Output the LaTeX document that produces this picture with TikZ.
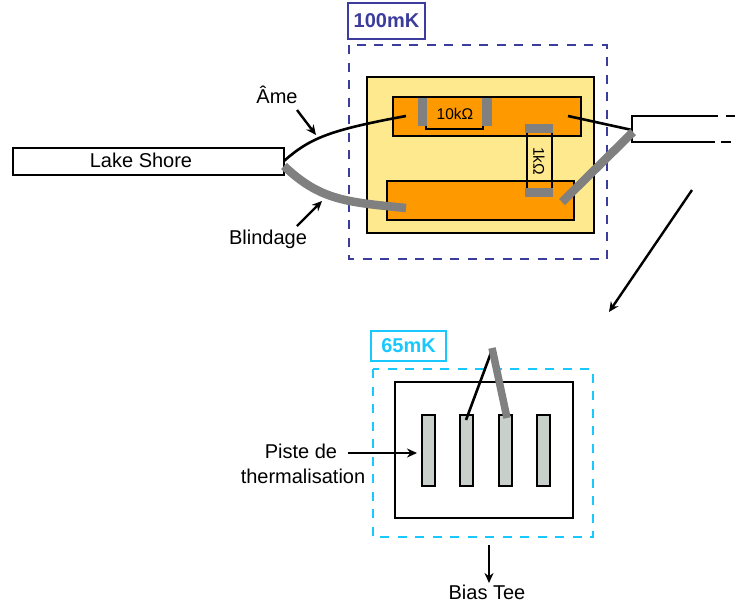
\documentclass[tikz,border=0pt]{standalone}
\usepackage{fontspec}
\setmainfont{Liberation Sans}
\usetikzlibrary{arrows.meta}
\definecolor{dkblue}{HTML}{3C3C9C}
\definecolor{ltblue}{HTML}{19C8FF}
\definecolor{pale}{HTML}{FFE98F}
\definecolor{orng}{HTML}{FF9900}
\definecolor{padgray}{HTML}{808080}
\definecolor{strip}{HTML}{C9CFCB}
\tikzset{
  x=1pt,y=-1pt,
  box/.style={draw=black,line width=2.6pt,inner sep=0pt,outer sep=0pt},
  lbl/.style={font=\fontsize{20}{24}\selectfont,inner sep=0pt,text=black},
  reslbl/.style={font=\fontsize{15.5}{18}\selectfont,inner sep=0pt},
  pad/.style={fill=padgray,inner sep=0pt,outer sep=0pt},
  wire/.style={draw=black,line width=2.6pt},
  shield/.style={draw=padgray,line width=8.5pt},
  pointer/.style={draw=black,line width=2.4pt,-{Stealth[length=10pt,width=9pt]}},
  tag/.style={line width=2.8pt,fill=white,font=\fontsize{20}{24}\selectfont\bfseries,inner sep=0pt,outer sep=0pt},
  zone/.style={line width=2.8pt,dash pattern=on 9pt off 8.5pt},
}
\newcommand{\rct}[6]{\node[#1,minimum width=#4-#2,minimum height=#5-#3,anchor=north west] (#6) at (#2,#3) {};}
\begin{document}
\begin{tikzpicture}
\useasboundingbox (0,0) rectangle (735,606);
% 100mK zone
\draw[zone,draw=dkblue] (349,45) rectangle (607,259);
\node[tag,draw=dkblue,text=dkblue,minimum width=77pt,minimum height=36pt] (t100) at (386.5,21) {100mK};
\rct{box,fill=pale}{367}{77}{594}{233}{sub}
\rct{box,fill=orng}{393}{97}{581}{136}{padtop}
\rct{box,fill=orng}{387}{181}{574}{220}{padbot}
% 10k resistor
\draw[line width=2.6pt] (426,97) -- (426,129) -- (483,129) -- (483,97);
\rct{pad}{418}{98}{427}{126}{pa}
\rct{pad}{482}{98}{492}{126}{pb}
\node[reslbl] (r10) at (455,114) {10kΩ};
% 1k resistor
\rct{box}{527}{130}{552}{190}{rone}
\rct{pad}{525}{124}{553}{133}{pc}
\rct{pad}{525}{188}{553}{197}{pd}
\node[reslbl,rotate=-90] (r1) at (539,161) {1kΩ};
% Lake shore
\rct{box,fill=white}{13}{148}{284}{175}{lake}
\node[lbl] (laketxt) at (141,160) {Lake Shore};
% right cable
\coordinate (ct) at (632,116);
\coordinate (cb) at (632,142);
\coordinate (ce) at (735,116);
\coordinate (cf) at (731,142);
\draw[line width=2.6pt] (718,116) -- (ct) -- (cb) -- (715,142);
\draw[line width=2.6pt] (726,116) -- (ce);
\draw[line width=2.6pt] (721,142) -- (cf);
% wires
\coordinate (la) at (284,161);
\coordinate (ls) at (284,166);
\coordinate (pa1) at (406,116);
\coordinate (ps1) at (406,208);
\coordinate (pr1) at (568,116);
\coordinate (cr) at (632,130);
\coordinate (ps2) at (562,202);
\coordinate (cs) at (633,132);
\draw[wire] (la) .. controls (310,138) and (330,130) .. (pa1);
\draw[shield] (ls) .. controls (320,200) and (345,202) .. (ps1);
\draw[wire] (pr1) -- (cr);
\draw[shield] (ps2) -- (cs);
% pointers
\node[lbl] (ame) at (277,95) {Âme};
\node[lbl] (bl) at (268,239) {Blindage};
\coordinate (a1) at (297,110);\coordinate (a2) at (316,135);
\coordinate (b1) at (297,226);\coordinate (b2) at (322,201);
\draw[pointer] (a1) -- (a2);
\draw[pointer] (b1) -- (b2);
\coordinate (d1) at (692,190);\coordinate (d2) at (609,312);
\draw[pointer] (d1) -- (d2);
% 65mK zone
\draw[zone,draw=ltblue] (373,369) rectangle (593,537);
\node[tag,draw=ltblue,text=ltblue,minimum width=75pt,minimum height=30pt] (t65) at (408.5,346) {65mK};
\rct{box,fill=white}{395}{382}{573}{518}{board}
\rct{box,fill=strip}{422}{415}{435}{486}{s1}
\rct{box,fill=strip}{460}{415}{473}{486}{s2}
\rct{box,fill=strip}{499}{415}{512}{486}{s3}
\rct{box,fill=strip}{537}{415}{550}{486}{s4}
\coordinate (top) at (492,350);
\coordinate (s2a) at (466,420);
\coordinate (gtop) at (492,348);
\coordinate (s3a) at (507,418);
\draw[wire] (s2a) -- (top);
\draw[draw=padgray,line width=7.5pt] (gtop) -- (s3a);
\node[lbl] (piste) at (301,451) {Piste de};
\node[lbl] (therm) at (303,476) {thermalisation};
\coordinate (p1) at (348,453);\coordinate (p2) at (417,453);
\draw[pointer] (p1) -- (p2);
\coordinate (t1) at (489,545);\coordinate (t2) at (489,583);
\draw[pointer] (t1) -- (t2);
\node[lbl] (bias) at (487,592) {Bias Tee};
\end{tikzpicture}
\end{document}
